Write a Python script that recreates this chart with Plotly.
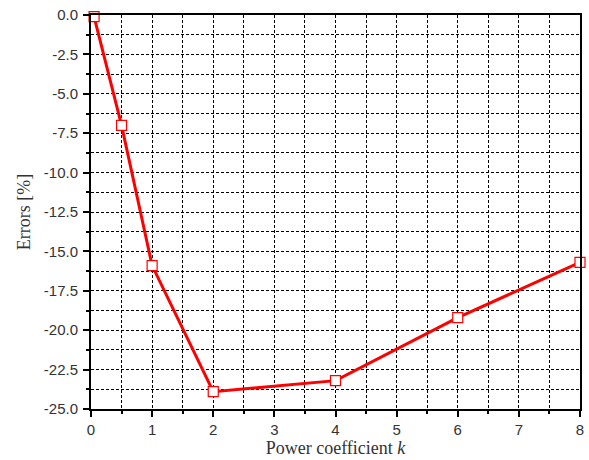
import plotly.graph_objects as go

k_values = [0.05, 0.5, 1, 2, 4, 6, 8]
errors = [-0.1, -7.0, -15.9, -23.9, -23.2, -19.2, -15.7]

x_tickvals = [0, 1, 2, 3, 4, 5, 6, 7, 8]
y_tickvals = [0.0, -2.5, -5.0, -7.5, -10.0, -12.5, -15.0, -17.5, -20.0, -22.5, -25.0]
y_ticktext = ["0.0", "-2.5", "-5.0", "-7.5", "-10.0", "-12.5", "-15.0", "-17.5", "-20.0", "-22.5", "-25.0"]

fig = go.Figure()
fig.add_trace(go.Scatter(
    x=k_values, y=errors, mode="lines+markers",
    line=dict(color="#ff0000", width=3),
    marker=dict(symbol="square", size=10, color="white",
                line=dict(color="#ff0000", width=1.2)),
    showlegend=False, cliponaxis=False,
))

tick_font = dict(family="Liberation Sans, Arial", size=15, color="#333333")
title_font = dict(family="Liberation Serif, Times New Roman", size=18, color="#333333")
grid_common = dict(gridcolor="#000000", gridwidth=1, griddash="3px,2px")

fig.update_xaxes(
    range=[0, 8], tickvals=x_tickvals, ticks="outside", ticklen=6, tickwidth=2,
    tickcolor="black", showline=True, linecolor="black", linewidth=2, mirror=True,
    showgrid=True, **grid_common, zeroline=False, tickfont=tick_font,
    ticklabelstandoff=0,
    minor=dict(dtick=0.5, tick0=0, showgrid=True, ticks="outside", ticklen=3,
               tickwidth=1.5, tickcolor="black", **grid_common),
    title=dict(text="Power coefficient <i>k</i>", font=title_font, standoff=2),
)
fig.update_yaxes(
    range=[-25, 0], tickvals=y_tickvals, ticktext=y_ticktext, ticks="outside",
    ticklen=6, tickwidth=2, tickcolor="black", showline=True, linecolor="black",
    linewidth=2, mirror=True, showgrid=True, **grid_common, zeroline=False,
    tickfont=tick_font, ticklabelstandoff=2,
    minor=dict(dtick=1.25, tick0=0, showgrid=True, ticks="outside", ticklen=3,
               tickwidth=1.5, tickcolor="black", **grid_common),
    title=dict(text="Errors [%]", font=title_font, standoff=8),
)
fig.update_layout(
    width=589, height=460, margin=dict(l=91, r=9, t=15, b=51, autoexpand=False),
    paper_bgcolor="white", plot_bgcolor="white",
)
fig.write_html("out.html")
